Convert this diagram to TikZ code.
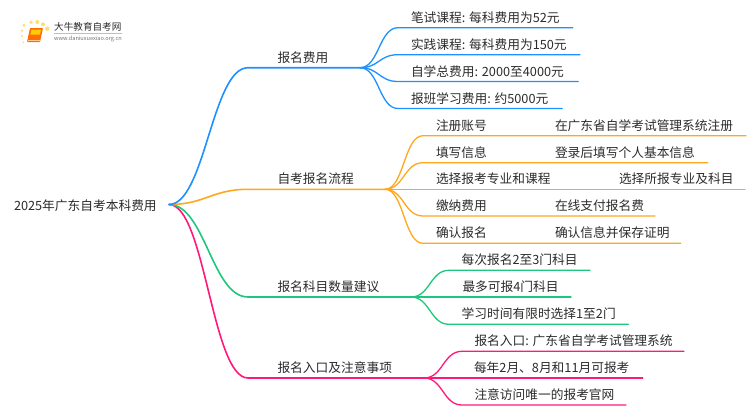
\documentclass[tikz,border=0pt]{standalone}
\usepackage{fontspec}
\setmainfont{Noto Sans CJK SC}
\definecolor{cblue}{HTML}{1E90FF}
\definecolor{corange}{HTML}{FFA81E}
\definecolor{cgreen}{HTML}{1FC77E}
\definecolor{cpink}{HTML}{FF1A7A}
\definecolor{ctext}{HTML}{2B2B2B}
\tikzset{
  lbl/.style={inner sep=0pt,outer sep=0pt,anchor=base west,text=ctext,font=\fontsize{12.72}{14}\selectfont},
  conn/.style={line width=1.3pt,line cap=round},
  main/.style={line width=1.6pt,line cap=round},
}
\begin{document}
\begin{tikzpicture}[x=1pt,y=-1pt]
\useasboundingbox (0,0) rectangle (750,410);
% logo
\foreach \px/\py/\pr in {23.3/42.3/0.9,22/36/1.1,22/30.7/1.3,24/25.3/1.6,31/22.3/1.9,37.3/22/2,43/24.3/2,47.3/28.7/2.2}
  \fill[color=yellow!60!orange!55] (\px,\py) circle (\pr);
\fill[color=orange!85!red,rounded corners=0.8pt] (30,28) -- (43,28) -- (40,42) -- (27,42) -- cycle;
\fill[color=yellow!65!orange] (31.5,29.5) -- (41,29.5) -- (40,34.5) -- (30.3,34.5) -- cycle;
\draw[color=white!60!orange,line width=0.6pt] (28,40.6) -- (39.6,40.6);
\node[inner sep=0pt,anchor=base west,text=ctext,font=\fontsize{9.6}{11}\selectfont] (logot) at (54,30.5) {大牛教育自考网};
\draw[color=black!25,line width=0.5pt] (54,33.3) -- (122,33.3);
\node[inner sep=0pt,anchor=base west,text=black!55,font=\fontsize{5.6}{7}\selectfont] (logou) at (54,40.5) {www.daniuxuexiao.org.cn};
% root
\node[lbl] (root) at (14,210.5) {2025年广东自考本科费用};
\coordinate (r) at (169,204.5);
% branch anchors
\coordinate (b1a) at (248,67.7); \coordinate (b1f) at (360,67.7);
\coordinate (b2a) at (248,189.3); \coordinate (b2f) at (385,189.3);
\coordinate (b3a) at (248,297); \coordinate (b3f) at (411,297);
\coordinate (b4a) at (248,378); \coordinate (b4f) at (424,378);
% branch labels
\node[lbl] (b1) at (277.5,62.2) {报名费用};
\node[lbl] (b2) at (277.5,183.8) {自考报名流程};
\node[lbl] (b3) at (277.5,291.5) {报名科目数量建议};
\node[lbl] (b4) at (277.5,372.5) {报名入口及注意事项};
% leaves of branch 1
\node[lbl] (a1) at (411,22.2) {笔试课程: 每科费用为52元};
\node[lbl] (a2) at (411,49.2) {实践课程: 每科费用为150元};
\node[lbl] (a3) at (411,76) {自学总费用: 2000至4000元};
\node[lbl] (a4) at (411,103) {报班学习费用: 约5000元};
% leaves of branch 2
\node[lbl] (c1) at (436,130.2) {注册账号};
\node[lbl] (c1r) at (555,130.2) {在广东省自学考试管理系统注册};
\node[lbl] (c2) at (436,157.2) {填写信息};
\node[lbl] (c2r) at (555,157.2) {登录后填写个人基本信息};
\node[lbl] (c3) at (436,183.8) {选择报考专业和课程};
\node[lbl] (c3r) at (619,183.8) {选择所报专业及科目};
\node[lbl] (c4) at (436,210.5) {缴纳费用};
\node[lbl] (c4r) at (555,210.5) {在线支付报名费};
\node[lbl] (c5) at (436,237.8) {确认报名};
\node[lbl] (c5r) at (555,237.8) {确认信息并保存证明};
% leaves of branch 3
\node[lbl] (d1) at (461.7,264.8) {每次报名2至3门科目};
\node[lbl] (d2) at (462.5,291.5) {最多可报4门科目};
\node[lbl] (d3) at (461.7,318.8) {学习时间有限时选择1至2门};
% leaves of branch 4
\node[lbl] (e1) at (474.5,345.8) {报名入口: 广东省自学考试管理系统};
\node[lbl] (e2) at (474,372.5) {每年2月、8月和11月可报考};
\node[lbl] (e3) at (474.5,399.5) {注意访问唯一的报考官网};
% connectors: root to branches
\draw[main,cpink] (r) .. controls (205,204.5) and (212,378) .. (b4a) -- (b4f);
\draw[main,cgreen] (r) .. controls (205,204.5) and (212,297) .. (b3a) -- (b3f);
\draw[main,corange] (r) .. controls (205,204.5) and (212,189.3) .. (b2a) -- (b2f);
\draw[main,cblue] (r) .. controls (205,204.5) and (212,67.7) .. (b1a) -- (b1f);
% branch 1 to leaves
\foreach \yy/\xe in {27.7/572.7,54.7/580,81.5/578.3,108.5/562.3}
  \draw[conn,cblue] (b1f) .. controls (379,67.7) and (379,\yy) .. (398,\yy) -- (\xe,\yy);
% branch 2 to leaves
\foreach \yy/\xe in {135.7/746,162.7/707.7,189.3/745,216/655,243.3/680.7}
  \draw[conn,corange] (b2f) .. controls (404,189.3) and (404,\yy) .. (423,\yy) -- (\xe,\yy);
% branch 3 to leaves
\foreach \yy/\xe in {270.3/590,297/571,324.3/628.3}
  \draw[conn,cgreen] (b3f) .. controls (430,297) and (430,\yy) .. (449,\yy) -- (\xe,\yy);
% branch 4 to leaves
\foreach \yy/\xe in {351.3/684,378/642.7,405/626}
  \draw[conn,cpink] (b4f) .. controls (443,378) and (443,\yy) .. (462,\yy) -- (\xe,\yy);
\end{tikzpicture}
\end{document}
